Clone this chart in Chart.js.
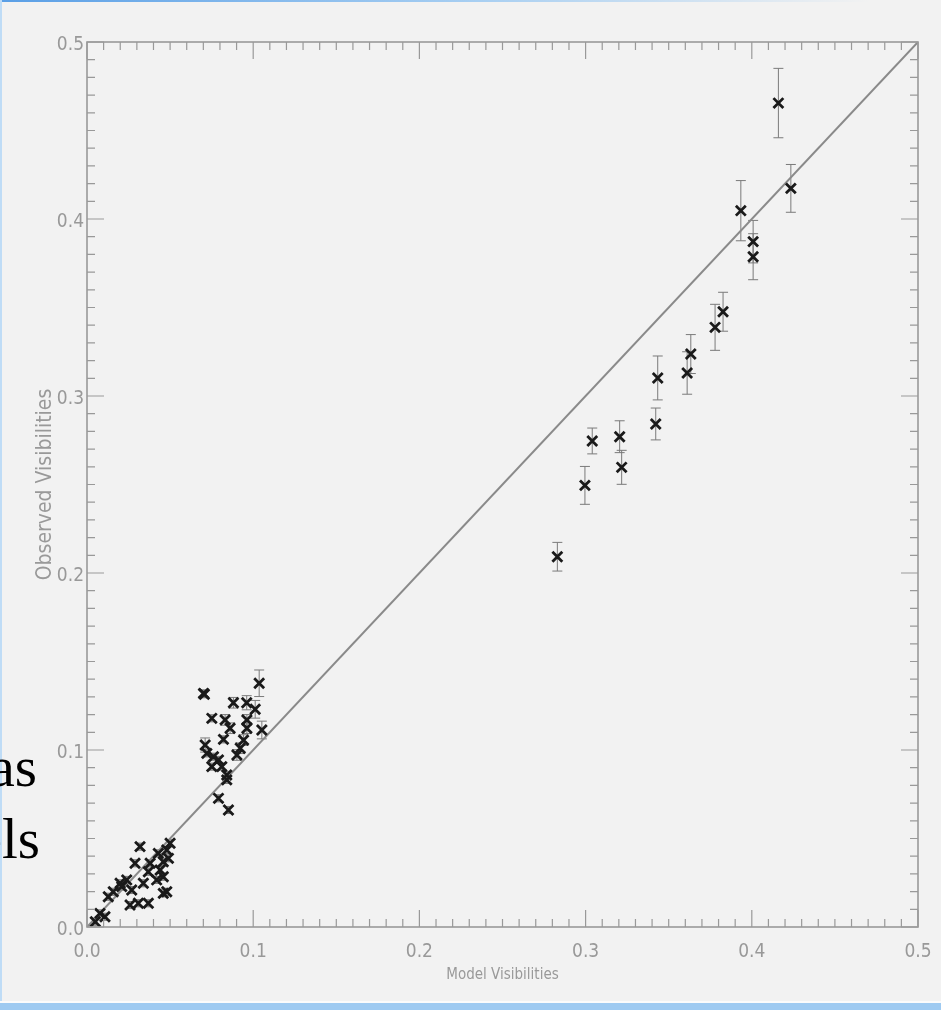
<!DOCTYPE html>
<html>
<head>
<meta charset="utf-8">
<title>Observed vs Model Visibilities</title>
<script src="https://cdn.jsdelivr.net/npm/chart.js@4/dist/chart.umd.min.js"></script>
<style>
  html, body { margin: 0; padding: 0; background: #f2f2f2; }
  #page { position: relative; width: 941px; height: 1010px; overflow: hidden; background: #f2f2f2; }
  #topbar { position: absolute; left: 0; top: 0; width: 870px; height: 2px;
            background: linear-gradient(to right, #5a9fe6, #a8cff2 55%, rgba(242,242,242,0)); }
  #leftbar { position: absolute; left: 0; top: 0; width: 2px; height: 1010px; background: #bfdcf6; }
  #bottombar { position: absolute; left: 0; bottom: 0; width: 941px; height: 7px; background: #9ecaf1;
               border-top: 2px solid #fbfbfb; }
  .slide { position: absolute; font-family: 'Liberation Serif', 'Times New Roman', serif;
           font-size: 57px; line-height: 1; color: #000; white-space: nowrap; }
  #chart { position: absolute; left: 0; top: 0; }
</style>
</head>
<body>
<div id="page">
  <div id="topbar"></div>
  <div id="leftbar"></div>
  <div class="slide" style="right:904px; top:738px;">as</div>
  <div class="slide" style="right:901px; top:810px;">els</div>
  <canvas id="chart" width="941" height="1010"></canvas>
  <div id="bottombar"></div>
</div>
<script>
// model vs observed visibilities, with 1-sigma errors on the observed values
const modelVis = [
  0.416, 0.4235, 0.3934, 0.4008, 0.4008, 0.3827, 0.3779, 0.3633, 0.3611, 0.3434,
  0.3422, 0.3205, 0.3217, 0.304, 0.2996, 0.283,
  0.0701, 0.0706, 0.1036, 0.0881, 0.0961, 0.1012, 0.0751, 0.0831, 0.0962, 0.0861,
  0.0962, 0.1052, 0.0821, 0.0942, 0.0711, 0.0922, 0.0721, 0.0761, 0.0902, 0.0791,
  0.0751, 0.0811, 0.0841, 0.0841, 0.0791, 0.0851,
  0.0078, 0.0108, 0.0128, 0.0209, 0.0239, 0.0269, 0.0289, 0.0319, 0.0259, 0.0309,
  0.0339, 0.0369, 0.0369, 0.0419, 0.044, 0.0429, 0.0459, 0.048, 0.05, 0.049,
  0.0459, 0.048, 0.0459, 0.0158, 0.0199, 0.038, 0.005
];
const observedVis = [
  0.4655, 0.4173, 0.4047, 0.3872, 0.3787, 0.3476, 0.3388, 0.3237, 0.313, 0.3102,
  0.2842, 0.277, 0.2597, 0.2746, 0.2495, 0.2092,
  0.132, 0.1315, 0.1377, 0.1267, 0.1267, 0.123, 0.1179, 0.117, 0.117, 0.1123,
  0.1123, 0.1113, 0.106, 0.1056, 0.1028, 0.101, 0.0981, 0.0962, 0.0972, 0.0944,
  0.0906, 0.0906, 0.0859, 0.0831, 0.0727, 0.0661,
  0.0077, 0.0058, 0.0171, 0.0228, 0.0266, 0.0209, 0.036, 0.0454, 0.0124, 0.0134,
  0.0247, 0.0312, 0.0134, 0.0266, 0.0322, 0.0416, 0.0369, 0.0435, 0.0473, 0.0388,
  0.0284, 0.0199, 0.019, 0.0199, 0.0247, 0.036, 0.003
];
const observedErr = [
  0.0196, 0.0135, 0.017, 0.012, 0.013, 0.011, 0.013, 0.011, 0.012, 0.0124,
  0.009, 0.009, 0.0096, 0.0073, 0.0107, 0.0081,
  0.002, 0.002, 0.0075, 0.003, 0.004, 0.005, 0.002, 0.003, 0.003, 0.003,
  0.003, 0.005, 0.002, 0.003, 0.004, 0.003, 0.002, 0.002, 0.003, 0.002,
  0.002, 0.002, 0.002, 0.002, 0.002, 0.002,
  0.002, 0.002, 0.002, 0.002, 0.002, 0.002, 0.002, 0.002, 0.002, 0.002,
  0.002, 0.002, 0.002, 0.002, 0.002, 0.002, 0.002, 0.002, 0.002, 0.002,
  0.002, 0.002, 0.002, 0.002, 0.002, 0.002, 0.002
];
const oneToOne = [0, 0.5];
const tickValues = [0, 0.1, 0.2, 0.3, 0.4, 0.5];

const inkGray = '#999999';
const labelFont = "'Liberation Sans Narrow', 'DejaVu Sans Condensed', sans-serif";

const points = modelVis.map((x, i) => ({ x: x, y: observedVis[i] }));

// IDL-style closed box with inward major/minor ticks on all four sides
const boxTicks = {
  id: 'boxTicks',
  afterDraw(chart) {
    const { ctx, chartArea: a, scales: { x, y } } = chart;
    ctx.save();
    ctx.strokeStyle = inkGray;
    ctx.lineWidth = 1.6;
    ctx.strokeRect(a.left, a.top, a.right - a.left, a.bottom - a.top);
    ctx.lineWidth = 1.2;
    ctx.beginPath();
    for (let i = 0; i <= 50; i++) {
      const v = i / 100;
      const len = i % 10 === 0 ? 17 : 8;
      const px = x.getPixelForValue(v);
      const py = y.getPixelForValue(v);
      ctx.moveTo(px, a.bottom); ctx.lineTo(px, a.bottom - len);
      ctx.moveTo(px, a.top); ctx.lineTo(px, a.top + len);
      ctx.moveTo(a.left, py); ctx.lineTo(a.left + len, py);
      ctx.moveTo(a.right, py); ctx.lineTo(a.right - len, py);
    }
    ctx.stroke();
    ctx.restore();
  }
};

// vertical error bars with small caps
const errorBars = {
  id: 'errorBars',
  beforeDatasetsDraw(chart) {
    const { ctx, scales: { x, y } } = chart;
    ctx.save();
    ctx.strokeStyle = '#7a7a7a';
    ctx.lineWidth = 1;
    ctx.beginPath();
    modelVis.forEach((mv, i) => {
      const px = x.getPixelForValue(mv);
      const top = y.getPixelForValue(observedVis[i] + observedErr[i]);
      const bot = y.getPixelForValue(observedVis[i] - observedErr[i]);
      ctx.moveTo(px, top); ctx.lineTo(px, bot);
      ctx.moveTo(px - 5, top); ctx.lineTo(px + 5, top);
      ctx.moveTo(px - 5, bot); ctx.lineTo(px + 5, bot);
    });
    ctx.stroke();
    ctx.restore();
  }
};

new Chart(document.getElementById('chart'), {
  type: 'scatter',
  data: {
    datasets: [
      {
        data: points,
        pointStyle: 'crossRot',
        pointRadius: 7,
        borderWidth: 2.8,
        borderColor: '#1a1a1a',
        backgroundColor: '#1a1a1a',
        order: 1
      },
      {
        type: 'line',
        data: oneToOne.map(v => ({ x: v, y: v })),
        borderColor: '#8a8a8a',
        borderWidth: 2,
        pointRadius: 0,
        fill: false,
        order: 2
      }
    ]
  },
  options: {
    responsive: false,
    animation: false,
    layout: { padding: { top: 42, right: 23, bottom: 0, left: 0 } },
    plugins: { legend: { display: false }, tooltip: { enabled: false } },
    scales: {
      x: {
        type: 'linear',
        min: 0, max: 0.5,
        afterFit(scale) {
          scale.height = 83;
          scale.paddingLeft = 0;
          scale.paddingRight = 0;
        },
        afterBuildTicks(scale) { scale.ticks = tickValues.map(v => ({ value: v })); },
        grid: { display: false, drawTicks: false },
        border: { display: false },
        ticks: {
          padding: 14,
          color: inkGray,
          font: { family: labelFont, size: 19 },
          callback: v => v.toFixed(1)
        },
        title: {
          display: true,
          text: 'Model Visibilities',
          color: inkGray,
          font: { family: labelFont, size: 15 },
          padding: { top: 0, bottom: 26 }
        }
      },
      y: {
        type: 'linear',
        min: 0, max: 0.5,
        afterFit(scale) {
          scale.width = 87;
          scale.paddingTop = 0;
          scale.paddingBottom = 0;
        },
        afterBuildTicks(scale) { scale.ticks = tickValues.map(v => ({ value: v })); },
        grid: { display: false, drawTicks: false },
        border: { display: false },
        ticks: {
          padding: 3,
          labelOffset: 3,
          color: inkGray,
          font: { family: labelFont, size: 19 },
          callback: v => v.toFixed(1)
        },
        title: {
          display: true,
          text: 'Observed Visibilities',
          color: inkGray,
          font: { family: labelFont, size: 21 },
          padding: { top: 33, bottom: 0 }
        }
      }
    }
  },
  plugins: [errorBars, boxTicks]
});
</script>
</body>
</html>
